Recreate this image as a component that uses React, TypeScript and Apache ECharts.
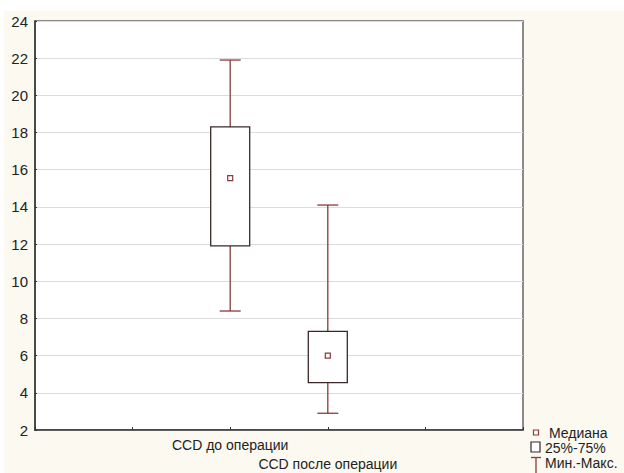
import React, { useEffect, useRef } from "react";
import * as echarts from "echarts";

const categories = ["", "", "CCD до операции", "CCD после операции", "", ""];
const boxCategories = ["CCD до операции", "CCD после операции"];
const mins = [8.4, 2.9];
const q1s = [11.9, 4.55];
const medians = [15.55, 6.0];
const q3s = [18.3, 7.3];
const maxs = [21.9, 14.1];
const yTicks = { min: 2, max: 24, interval: 2 };
const legendLabels = ["Медиана", "25%-75%", "Мин.-Макс."];

const WHISKER = "#8a3a3a";
const BOX = "#3a2828";
const FONT = "Liberation Sans, Arial, sans-serif";

export default function App() {
  const ref = useRef<HTMLDivElement>(null);
  useEffect(() => {
    if (!ref.current) return;
    const chart = echarts.init(ref.current, null, { renderer: "svg" });
    const data = boxCategories.map((c, i) => [
      categories.indexOf(c),
      mins[i],
      q1s[i],
      medians[i],
      q3s[i],
      maxs[i],
    ]);
    chart.setOption({
      animation: false,
      backgroundColor: "transparent",
      textStyle: { fontFamily: FONT },
      grid: {
        left: 35,
        right: 101,
        top: 21,
        bottom: 40,
        show: true,
        backgroundColor: "#ffffff",
        borderColor: "#666",
        borderWidth: 1.5,
      },
      xAxis: {
        type: "category",
        data: categories,
        boundaryGap: false,
        axisLine: { lineStyle: { color: "#333", width: 1.5 } },
        axisTick: { inside: true, length: 3, interval: 0, lineStyle: { color: "#333" } },
        splitLine: { show: false },
        axisLabel: {
          interval: 0,
          margin: 5,
          color: "#222",
          fontSize: 14,
          fontFamily: FONT,
          lineHeight: 19,
          formatter: (v: string, idx: number) => (idx === 3 ? "\n" + v : v),
        },
      },
      yAxis: {
        type: "value",
        min: yTicks.min,
        max: yTicks.max,
        interval: yTicks.interval,
        axisLine: { show: true, lineStyle: { color: "#333", width: 1.5 } },
        axisTick: { show: true, inside: true, length: 2, lineStyle: { color: "#333" } },
        splitLine: { show: true, lineStyle: { color: "#dcdcdc", width: 1 } },
        axisLabel: { color: "#222", fontSize: 15, margin: 7, fontFamily: FONT },
      },
      series: [
        {
          type: "custom",
          data,
          encode: { x: 0, y: [1, 2, 3, 4, 5] },
          renderItem: (params: any, api: any) => {
            const x = api.value(0);
            const pMin = api.coord([x, api.value(1)]);
            const pQ1 = api.coord([x, api.value(2)]);
            const pMed = api.coord([x, api.value(3)]);
            const pQ3 = api.coord([x, api.value(4)]);
            const pMax = api.coord([x, api.value(5)]);
            const cx = pMin[0];
            const bw = 39;
            const cw = 21;
            return {
              type: "group",
              children: [
                { type: "line", shape: { x1: cx, y1: pMax[1], x2: cx, y2: pQ3[1] }, style: { stroke: WHISKER, lineWidth: 1.3 } },
                { type: "line", shape: { x1: cx, y1: pQ1[1], x2: cx, y2: pMin[1] }, style: { stroke: WHISKER, lineWidth: 1.3 } },
                { type: "line", shape: { x1: cx - cw / 2, y1: pMax[1], x2: cx + cw / 2, y2: pMax[1] }, style: { stroke: WHISKER, lineWidth: 1.3 } },
                { type: "line", shape: { x1: cx - cw / 2, y1: pMin[1], x2: cx + cw / 2, y2: pMin[1] }, style: { stroke: WHISKER, lineWidth: 1.3 } },
                { type: "rect", shape: { x: cx - bw / 2, y: pQ3[1], width: bw, height: pQ1[1] - pQ3[1] }, style: { fill: "#fff", stroke: BOX, lineWidth: 1.3 } },
                { type: "rect", shape: { x: cx - 2.5, y: pMed[1] - 2.5, width: 5, height: 5 }, style: { fill: "#fff", stroke: WHISKER, lineWidth: 1.2 } },
              ],
            };
          },
        },
      ],
      graphic: [
        { type: "rect", z: -10, silent: true, shape: { x: 4, y: 11, width: 620, height: 462 }, style: { fill: "#fcf9f0" } },
        { type: "rect", shape: { x: 533.5, y: 430, width: 5, height: 5 }, style: { fill: "#fff", stroke: WHISKER, lineWidth: 1.2 } },
        { type: "text", x: 549, y: 432.5, style: { text: legendLabels[0], fill: "#222", font: `14px ${FONT}`, verticalAlign: "middle" } },
        { type: "rect", shape: { x: 531, y: 442, width: 9, height: 10 }, style: { fill: "#fff", stroke: BOX, lineWidth: 1.2 } },
        { type: "text", x: 545, y: 447.5, style: { text: legendLabels[1], fill: "#222", font: `14px ${FONT}`, verticalAlign: "middle" } },
        { type: "line", shape: { x1: 531, y1: 457.5, x2: 541, y2: 457.5 }, style: { stroke: WHISKER, lineWidth: 1.3 } },
        { type: "line", shape: { x1: 536, y1: 457.5, x2: 536, y2: 473 }, style: { stroke: WHISKER, lineWidth: 1.3 } },
        { type: "text", x: 545, y: 462.5, style: { text: legendLabels[2], fill: "#222", font: `14px ${FONT}`, verticalAlign: "middle" } },
      ],
    });
    return () => chart.dispose();
  }, []);
  return (
    <div
      ref={ref}
      style={{ position: "absolute", left: 0, top: 0, width: 624, height: 473, background: "#fff" }}
    />
  );
}
